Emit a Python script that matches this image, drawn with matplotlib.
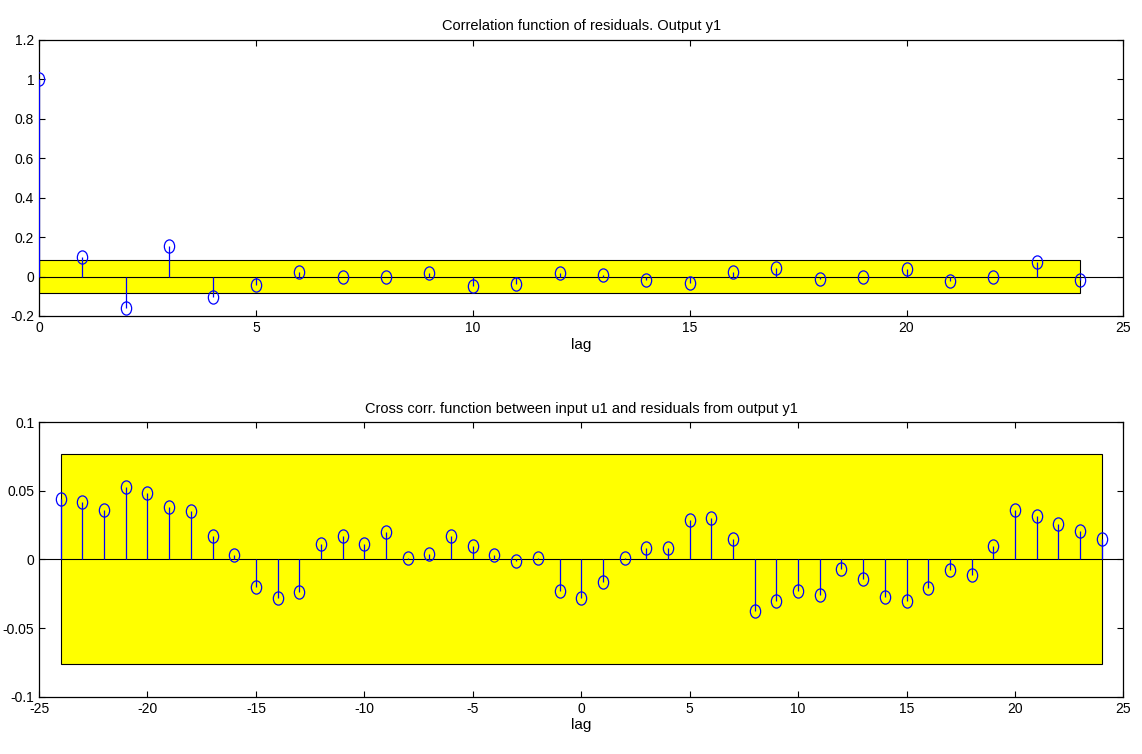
#!/usr/bin/env python3
import numpy as np
import matplotlib
matplotlib.use('Agg')
import matplotlib.pyplot as plt
from matplotlib.patches import Rectangle
from matplotlib.path import Path
from matplotlib.transforms import Affine2D

# ------------------------
# Data
# ------------------------
auto_lags = list(range(0, 25))
auto_corr = [1.0, 0.10, -0.16, 0.155, -0.105, -0.045, 0.022, 0.0, -0.005,
             0.02, -0.05, -0.038, 0.017, 0.008, -0.017, -0.032, 0.022,
             0.044, -0.012, 0.0, 0.037, -0.025, -0.005, 0.076, -0.02]
auto_conf = 0.083

cross_lags = list(range(-24, 25))
cross_corr = [0.0437, 0.042, 0.036, 0.0525, 0.0486, 0.038, 0.035, 0.0168,
              0.003, -0.020, -0.028, -0.024, 0.011, 0.017, 0.011, 0.0197,
              0.001, 0.004, 0.0168, 0.0097, 0.003, -0.001, 0.001, -0.023,
              -0.028, -0.0165, 0.001, 0.008, 0.008, 0.029, 0.030, 0.0148,
              -0.0377, -0.030, -0.023, -0.026, -0.0066, -0.0143, -0.027,
              -0.030, -0.021, -0.0075, -0.0114, 0.0097, 0.036, 0.032, 0.026,
              0.0204, 0.0146]
cross_conf = 0.0765

plt.rcParams['font.family'] = ['Liberation Sans Narrow', 'Liberation Sans', 'DejaVu Sans']
plt.rcParams['font.size'] = 10
plt.rcParams['axes.unicode_minus'] = False

# slightly tall circle, like the MATLAB screenshot
ellipse = Path.unit_circle().transformed(Affine2D().scale(0.78, 1.0))


def draw_panel(ax, lags, vals, conf, xlim, ylim, xticks, yticks, ylabels, title):
    x0, x1 = min(lags), max(lags)
    ax.add_patch(Rectangle((x0, -conf), x1 - x0, 2 * conf, facecolor='#ffff00',
                           edgecolor='black', linewidth=0.8, zorder=1))
    ax.axhline(0, color='black', linewidth=0.8, zorder=2)
    ax.vlines(lags, 0, vals, color='blue', linewidth=0.9, zorder=3)
    ax.plot(lags, vals, linestyle='none', marker=ellipse, markersize=9.5,
            markerfacecolor='none', markeredgecolor='blue',
            markeredgewidth=0.9, zorder=4)
    ax.set_xlim(*xlim)
    ax.set_ylim(*ylim)
    ax.set_xticks(xticks)
    ax.set_xticklabels([str(t) for t in xticks])
    ax.set_yticks(yticks)
    ax.set_yticklabels(ylabels)
    ax.set_title(title, fontsize=10.5, pad=7)
    ax.set_xlabel('lag', fontsize=11, labelpad=2)
    ax.tick_params(direction='in', top=True, right=True, length=4, width=0.8,
                   labelsize=10)
    for s in ax.spines.values():
        s.set_linewidth(0.9)


fig = plt.figure(figsize=(11.42, 7.54), dpi=100)
ax1 = fig.add_axes([0.0342, 0.581, 0.9495, 0.366])
ax2 = fig.add_axes([0.0342, 0.076, 0.9495, 0.364])

draw_panel(ax1, auto_lags, auto_corr, auto_conf, (0, 25), (-0.2, 1.2),
           [0, 5, 10, 15, 20, 25],
           [-0.2, 0, 0.2, 0.4, 0.6, 0.8, 1.0, 1.2],
           ['-0.2', '0', '0.2', '0.4', '0.6', '0.8', '1', '1.2'],
           'Correlation function of residuals. Output y1')

draw_panel(ax2, cross_lags, cross_corr, cross_conf, (-25, 25), (-0.1, 0.1),
           [-25, -20, -15, -10, -5, 0, 5, 10, 15, 20, 25],
           [-0.1, -0.05, 0, 0.05, 0.1],
           ['-0.1', '-0.05', '0', '0.05', '0.1'],
           'Cross corr. function between input u1 and residuals from output y1')

fig.savefig('out.png', dpi=100)
